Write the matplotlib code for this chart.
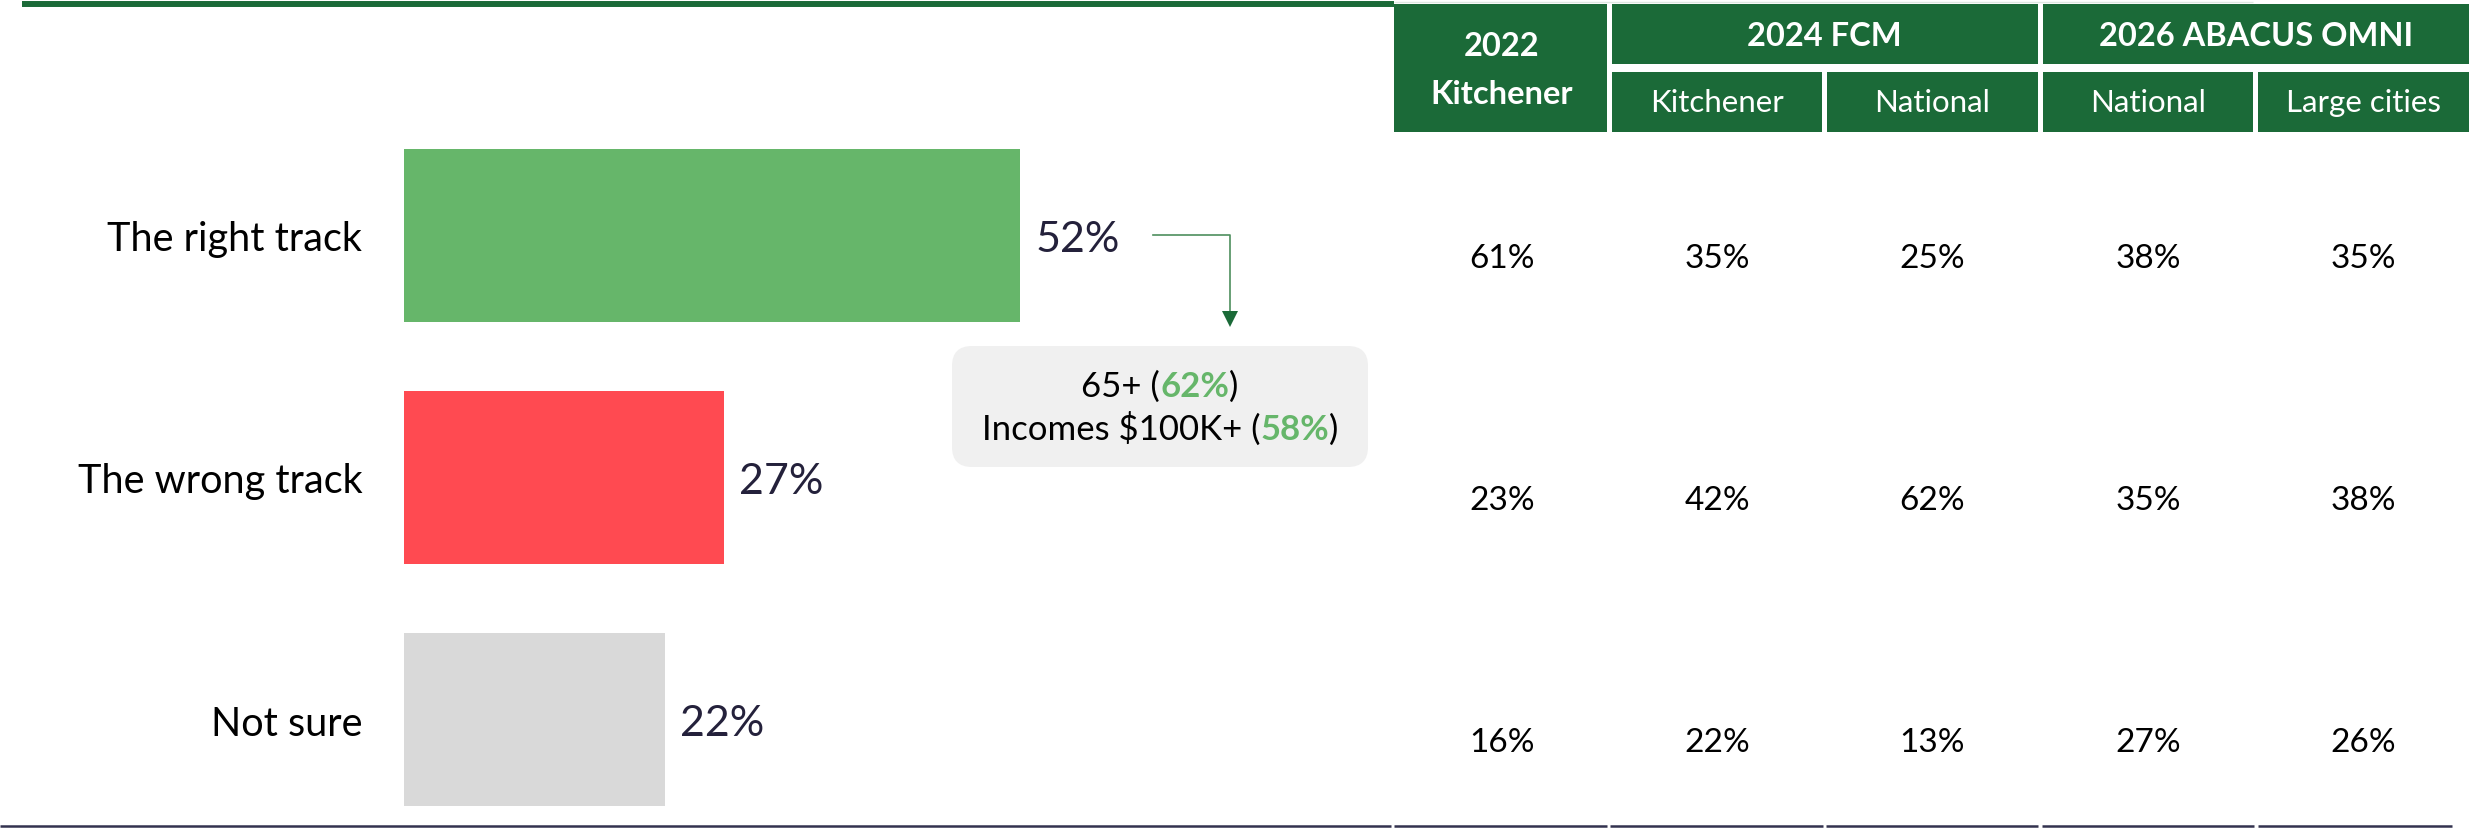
import matplotlib
matplotlib.use("Agg")
import matplotlib.pyplot as plt
from matplotlib.patches import Rectangle, FancyBboxPatch

# ---------------- data ----------------
categories = ["The right track", "The wrong track", "Not sure"]
values = [52, 27, 22]
bar_colors = ["#66b66a", "#ff4a51", "#d9d9d9"]

group_headers = ["2024 FCM", "2026 ABACUS OMNI"]
first_header = ["2022", "Kitchener"]
sub_headers = ["Kitchener", "National", "National", "Large cities"]
table_values = [
    [61, 35, 25, 38, 35],
    [23, 42, 62, 35, 38],
    [16, 22, 13, 27, 26],
]
callout_lines = [
    [("65+ (", "black", "normal"), ("62%", "#66b66a", "bold"), (")", "black", "normal")],
    [("Incomes $100K+ (", "black", "normal"), ("58%", "#66b66a", "bold"), (")", "black", "normal")],
]

# ---------------- style ----------------
W, H = 2471, 829
plt.rcParams["font.family"] = ["Lato", "DejaVu Sans"]
HEADER_GREEN = "#1b6a38"
VALUE_COLOR = "#24213b"

fig = plt.figure(figsize=(W / 100, H / 100), dpi=100)
fig.patch.set_facecolor("white")


def fx(px):
    return px / W


def fy(py):
    return 1 - py / H


# overlay axes in pixel coordinates (decorations)
oax = fig.add_axes([0, 0, 1, 1], zorder=0)
oax.set_xlim(0, W)
oax.set_ylim(H, 0)
oax.axis("off")

# ---------------- bar chart ----------------
px_per_pct = 11.85
bar_left, bar_right_lim = 404, 1390
top, bottom = 133, 827
row_step = 242
first_center = 236.5
ax = fig.add_axes([fx(bar_left), fy(bottom), (bar_right_lim - bar_left) / W, (bottom - top) / H], zorder=2)
ax.patch.set_alpha(0)
ypos = list(range(len(categories)))
bars = ax.barh(ypos, values, height=173 / row_step, color=bar_colors)
ax.set_xlim(0, (bar_right_lim - bar_left) / px_per_pct)
y0 = (first_center - top) / row_step
ax.set_ylim(-y0 + (bottom - top) / row_step, -y0)
ax.set_yticks(ypos)
ax.set_yticklabels(categories, fontsize=28.5, color="black")
ax.tick_params(axis="y", length=0, pad=30)
ax.set_xticks([])
for s in ax.spines.values():
    s.set_visible(False)
# value labels: digits vertically centred on the bar
for b, v in zip(bars, values):
    ax.annotate(f"{v}%", xy=(b.get_width(), b.get_y() + b.get_height() / 2),
                xytext=(11, -11.5), textcoords="offset points",
                ha="left", va="baseline", fontsize=31, color=VALUE_COLOR)

# ---------------- table ----------------
tab_left, tab_right = 1394, 2471
ncol = len(table_values[0])
tax = fig.add_axes([fx(tab_left), fy(bottom), (tab_right - tab_left) / W, (bottom - top) / H], zorder=2)
tax.patch.set_alpha(0)
tax.set_xlim(0, ncol)
t0 = (268 - top) / row_step
tax.set_ylim(-t0 + (bottom - top) / row_step, -t0)
tax.axis("off")
for i, row in enumerate(table_values):
    for j, v in enumerate(row):
        tax.text(j + 0.5, i, f"{v}%", ha="center", va="baseline", fontsize=24, color="black")

# header
hax = fig.add_axes([fx(tab_left), fy(133), (tab_right - tab_left) / W, 128 / H], zorder=2)
hax.set_xlim(0, ncol)
hax.set_ylim(128, 0)
hax.axis("off")
gx = 2.5 / 215.4
hax.add_patch(Rectangle((0, 0), 1 - gx, 128, color=HEADER_GREEN, lw=0))
for k, g in enumerate(group_headers):
    x0 = 1 + 2 * k
    hax.add_patch(Rectangle((x0 + gx, 0), 2 - 2 * gx, 60, color=HEADER_GREEN, lw=0))
    hax.text(x0 + 1, 32, g, ha="center", va="center", fontsize=23.5, fontweight="bold", color="white")
for k, s in enumerate(sub_headers):
    x0 = 1 + k
    hax.add_patch(Rectangle((x0 + gx, 68), 1 - 2 * gx, 60, color=HEADER_GREEN, lw=0))
    hax.text(x0 + 0.5, 98, s, ha="center", va="center", fontsize=22.5, color="white")
hax.text(0.5, 42, first_header[0], ha="center", va="center", fontsize=23.5, fontweight="bold", color="white")
hax.text(0.5, 89, first_header[1], ha="center", va="center", fontsize=23.5, fontweight="bold", color="white")

# ---------------- decorations ----------------
oax.plot([22, 1394], [5, 5], color=HEADER_GREEN, lw=4.3, solid_capstyle="butt")
oax.plot([1394, 2253], [2.5, 2.5], color="#dfe8e2", lw=1.0, solid_capstyle="butt")
seg_edges = [(0, 1391), (1394, 1607), (1610, 1823), (1826, 2038), (2042, 2254), (2258, 2452)]
for a, b in seg_edges:
    oax.plot([a, b], [827, 827], color="#33324f", lw=1.8, solid_capstyle="butt")

# callout arrow
oax.plot([1153, 1230, 1230], [236, 236, 318], color="#4e8f5e", lw=1.2)
oax.plot([1230], [320], marker="v", markersize=12, color="#1b6a38", markeredgewidth=0)

# callout box
oax.add_patch(FancyBboxPatch((952, 347), 416, 121, boxstyle="round,pad=0,rounding_size=20",
                             facecolor="#f0f0f0", edgecolor="none"))

fig.canvas.draw()
renderer = fig.canvas.get_renderer()
baselines = [397, 440]
cx = 1160
for line, base in zip(callout_lines, baselines):
    texts = [oax.text(0, base, s, color=c, fontweight=w, fontsize=25, va="baseline", ha="left")
             for s, c, w in line]
    widths = [t.get_window_extent(renderer).width for t in texts]
    x = cx - sum(widths) / 2
    for t, wd in zip(texts, widths):
        t.set_x(x)
        x += wd

fig.savefig("out.png", dpi=100, facecolor="white")
